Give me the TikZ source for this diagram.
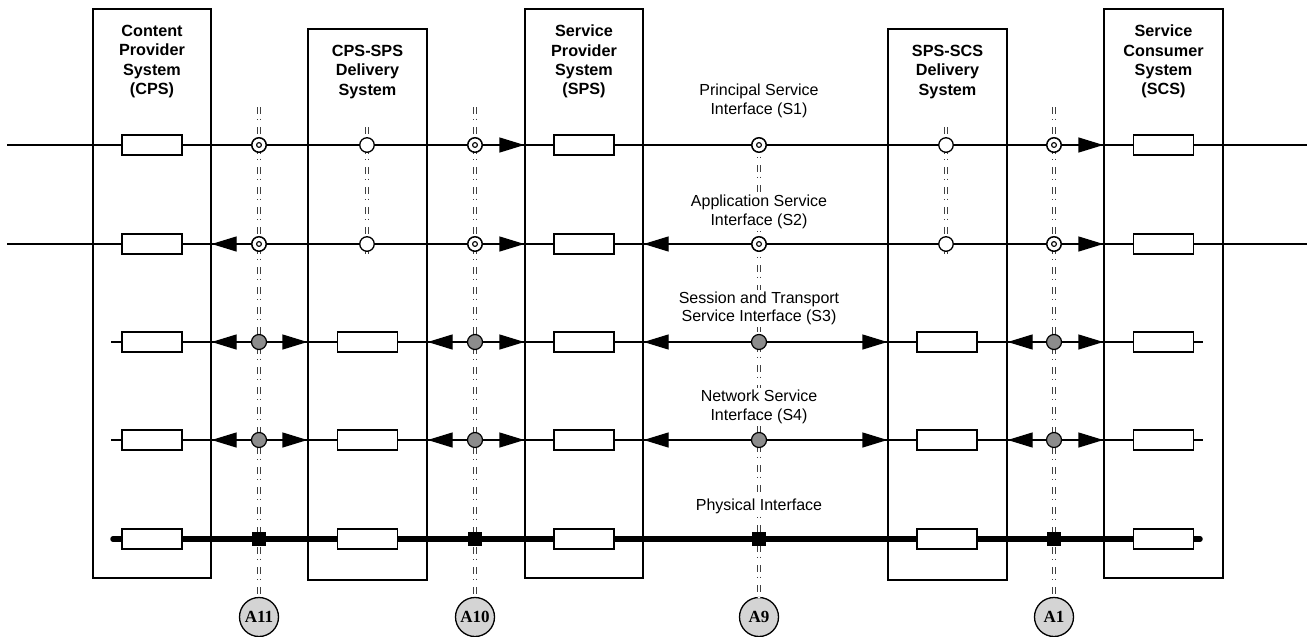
\documentclass[tikz,border=0pt]{standalone}
\usepackage{fontspec}
\setmainfont{Liberation Sans}
\newfontfamily\refserif{Liberation Serif}
\usetikzlibrary{arrows.meta,calc}

\begin{document}
\begin{tikzpicture}[x=1pt,y=-1pt,
  sysbox/.style={draw, line width=1.3pt, minimum width=118pt, inner sep=0pt},
  head/.style={font=\bfseries\fontsize{16.2}{19.3}\selectfont, align=center, anchor=north, inner sep=0pt},
  unit/.style={draw, fill=white, line width=1.2pt, minimum width=60pt, minimum height=20pt, inner sep=0pt},
  apt/.style={circle, draw, fill=white, line width=1.5pt, minimum size=14.5pt, inner sep=0pt,
    path picture={\draw[line width=1.1pt] (path picture bounding box.center) circle (2.4pt);}},
  opt/.style={circle, draw, fill=white, line width=1.3pt, minimum size=14.5pt, inner sep=0pt},
  gpt/.style={circle, draw, fill=black!45, line width=1.2pt, minimum size=15pt, inner sep=0pt},
  sq/.style={rectangle, fill=black, minimum size=14pt, inner sep=0pt},
  refc/.style={circle, draw, fill=black!17, line width=1.3pt, minimum size=39pt, inner sep=0pt,
    font=\refserif\bfseries\fontsize{17}{17}\selectfont},
  iflabel/.style={font=\fontsize{16}{18.5}\selectfont, align=center, fill=white, inner sep=2pt},
  vline/.style={draw=black!75, double=white, line width=0.8pt, double distance=1.8pt,
    dash pattern=on 6.5pt off 5pt on 1.5pt off 7pt},
  arr/.style={-{Triangle[length=25pt,width=15pt]}, line width=1.3pt},
  rowline/.style={line width=1.3pt},
  phys/.style={line width=5.5pt, line cap=round}]

\useasboundingbox (0,0) rectangle (1307,637);

% row levels
\foreach \r/\y in {1/145,2/244,3/342,4/440,5/539} \coordinate (y\r) at (0,\y);

% reference points
\foreach \n/\x in {11/259,10/475,9/759,1/1054} \node[refc] (A\n) at (\x,617) {A\n};

% vertical reference-point lines
\coordinate (t11) at (259,107);
\coordinate (t10) at (475,107);
\coordinate (t9) at (759,145);
\coordinate (t1) at (1054,107);
\foreach \n in {11,10,9,1} \draw[vline] (t\n) -- (A\n.north);
\coordinate (ma) at (367,127); \coordinate (mb) at (367,258);
\coordinate (mc) at (946,127); \coordinate (md) at (946,258);
\draw[vline] (ma) -- (mb);
\draw[vline] (mc) -- (md);

% systems
\node[sysbox, minimum height=569pt] (cps) at (152,293.5) {};
\node[sysbox, minimum height=551pt, minimum width=119pt] (d1) at (367.5,304.5) {};
\node[sysbox, minimum height=569pt] (sps) at (584,293.5) {};
\node[sysbox, minimum height=551pt, minimum width=119pt] (d2) at (947.5,304.5) {};
\node[sysbox, minimum height=569pt, minimum width=119pt] (scs) at (1163.5,293.5) {};

% interface lines
\foreach \r in {1,2} {
  \coordinate (w\r) at (7,0 |- y\r);
  \coordinate (e\r) at (1307,0 |- y\r);
  \coordinate (k\r) at (838,0 |- y\r);
  \draw[rowline] (w\r) -- (e\r);
  \draw[line width=1.9pt] (182,0 |- y\r) -- (k\r);
}
\foreach \r in {3,4} {
  \coordinate (w\r) at (111,0 |- y\r);
  \coordinate (e\r) at (1203,0 |- y\r);
  \draw[rowline] (w\r) -- (e\r);
}
\coordinate (w5) at (113,539);
\coordinate (e5) at (1200,539);
\draw[phys] (w5) -- (e5);

% arrows towards the system boundaries
\foreach \r in {1,2} {
  \draw[arr] ($(sps.west|-y\r)+(-25,0)$) -- (sps.west|-y\r);
  \draw[arr] ($(scs.west|-y\r)+(-25,0)$) -- (scs.west|-y\r);
}
\draw[arr] ($(cps.east|-y2)+(25,0)$) -- (cps.east|-y2);
\draw[arr] ($(sps.east|-y2)+(25,0)$) -- (sps.east|-y2);
\foreach \r in {3,4} {
  \foreach \b in {cps,d1,sps,d2}
    \draw[arr] ($(\b.east|-y\r)+(25,0)$) -- (\b.east|-y\r);
  \foreach \b in {d1,sps,d2,scs}
    \draw[arr] ($(\b.west|-y\r)+(-25,0)$) -- (\b.west|-y\r);
}

% functional units inside the systems
\foreach \r in {1,...,5} {
  \node[unit] (u\r cps) at (152,0 |- y\r) {};
  \node[unit] (u\r sps) at (584,0 |- y\r) {};
  \node[unit] (u\r scs) at (1163.5,0 |- y\r) {};
}
\foreach \r in {3,4,5} {
  \node[unit] (u\r d1) at (367.5,0 |- y\r) {};
  \node[unit] (u\r d2) at (947,0 |- y\r) {};
}

% markers where the reference points cross the interfaces
\foreach \r in {1,2} {
  \foreach \n/\x in {11/259,10/475,9/759,1/1054} \node[apt] (p\r a\n) at (\x,0 |- y\r) {};
  \node[opt] (p\r m1) at (367,0 |- y\r) {};
  \node[opt] (p\r m2) at (946,0 |- y\r) {};
}
\foreach \r in {3,4}
  \foreach \n/\x in {11/259,10/475,9/759,1/1054} \node[gpt] (p\r a\n) at (\x,0 |- y\r) {};
\foreach \n/\x in {11/259,10/475,9/759,1/1054} \node[sq] (p5a\n) at (\x,0 |- y5) {};

% interface names
\node[iflabel] (s1) at (759,101) {Principal Service\\Interface (S1)};
\node[iflabel] (s2) at (759,212) {Application Service\\Interface (S2)};
\node[iflabel] (s3) at (759,308.5) {Session and Transport\\Service Interface (S3)};
\node[iflabel] (s4) at (759,407) {Network Service\\Interface (S4)};
\node[iflabel] (s5) at (759,506) {Physical Interface};

% system headings
\node[head] at (152,25) {Content\\Provider\\System\\(CPS)};
\node[head] at (367.5,45) {CPS-SPS\\Delivery\\System};
\node[head] at (584,25) {Service\\Provider\\System\\(SPS)};
\node[head] at (947.5,45) {SPS-SCS\\Delivery\\System};
\node[head] at (1163.5,25) {Service\\Consumer\\System\\(SCS)};
\end{tikzpicture}
\end{document}
